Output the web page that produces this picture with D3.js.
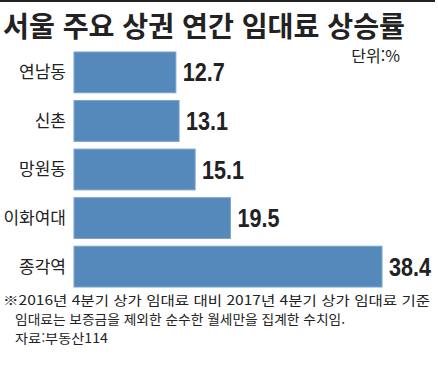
<!DOCTYPE html>
<html lang="ko">
<head>
    <meta charset="UTF-8">
    <title>서울 주요 상권 연간 임대료 상승률</title>
    <script src="https://d3js.org/d3.v7.min.js" charset="utf-8"></script>
    <style>
        body { margin: 0; background: #fff; }
        text { font-family: "Noto Sans CJK KR", "Noto Sans", sans-serif; fill: #222; }
        .value { font-family: "Liberation Sans", Arial, sans-serif; font-weight: bold; }
    </style>
</head>
<body>
<script>
    // 데이터
    let areas = ['연남동', '신촌', '망원동', '이화여대', '종각역'];
    let rates = [12.7, 13.1, 15.1, 19.5, 38.4];
    let notes = [
        '※2016년 4분기 상가 임대료 대비 2017년 4분기 상가 임대료 기준',
        '임대료는 보증금을 제외한 순수한 월세만을 집계한 수치임.',
        '자료:부동산114'
    ];

    var svg = d3.select('body').append('svg').attr('width', 438).attr('height', 368);

    // 상단 선
    svg.append('rect').attr('x', 0).attr('y', 0).attr('width', 435).attr('height', 2).attr('fill', '#222');

    // 제목
    svg.append('text')
        .attr('x', 3).attr('y', 37)
        .attr('font-size', 28).attr('font-weight', 'bold')
        .attr('textLength', 402).attr('lengthAdjust', 'spacingAndGlyphs')
        .text('서울 주요 상권 연간 임대료 상승률');

    svg.append('text')
        .attr('x', 400).attr('y', 62)
        .attr('text-anchor', 'end')
        .attr('font-size', 16).attr('fill', '#333')
        .text('단위:%');

    let x = d3.scaleLinear().domain([0, 38.4]).range([74, 382]);
    let y = d3.scaleBand().domain(areas).range([52, 287]).paddingInner(0.16).paddingOuter(0);

    svg.selectAll('rect.bar')
        .data(rates).enter()
        .append('rect')
        .attr('class', 'bar')
        .attr('x', x(0))
        .attr('y', function (d, i) { return y(areas[i]); })
        .attr('width', function (d) { return x(d) - x(0); })
        .attr('height', y.bandwidth())
        .attr('fill', '#5589bb')
        .attr('stroke', '#7aa3cc')
        .attr('stroke-width', 1);

    svg.selectAll('text.cat')
        .data(areas).enter()
        .append('text')
        .attr('class', 'cat')
        .attr('x', 66)
        .attr('y', function (d) { return y(d) + y.bandwidth() / 2; })
        .attr('dy', '0.35em')
        .attr('text-anchor', 'end')
        .attr('font-size', 17)
        .attr('fill', '#333')
        .text(function (d) { return d; });

    // 좁은 글꼴 대신 textLength로 폭을 줄임
    svg.selectAll('text.value')
        .data(rates).enter()
        .append('text')
        .attr('class', 'value')
        .attr('x', function (d) { return x(d) + 7; })
        .attr('y', function (d, i) { return y(areas[i]) + y.bandwidth() / 2; })
        .attr('dy', '0.36em')
        .attr('font-size', 25)
        .attr('textLength', 42).attr('lengthAdjust', 'spacingAndGlyphs')
        .text(function (d) { return d.toFixed(1); });

    // 주석
    let noteX = [3, 15, 15];
    let noteY = [305, 324, 343];
    let noteW = [427, 330, 93];
    svg.selectAll('text.note')
        .data(notes).enter()
        .append('text')
        .attr('class', 'note')
        .attr('x', function (d, i) { return noteX[i]; })
        .attr('y', function (d, i) { return noteY[i]; })
        .attr('font-size', 13)
        .attr('fill', '#333')
        .attr('textLength', function (d, i) { return noteW[i]; })
        .attr('lengthAdjust', 'spacingAndGlyphs')
        .text(function (d) { return d; });
</script>
</body>
</html>
